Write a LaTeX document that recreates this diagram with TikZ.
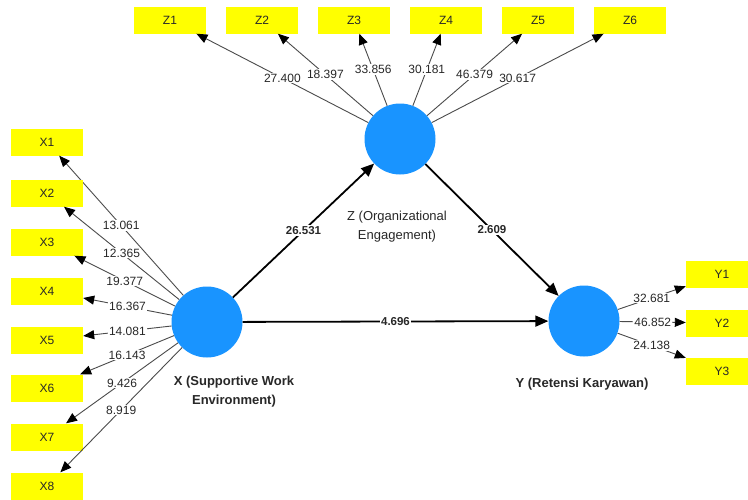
\documentclass[tikz,border=0pt]{standalone}
\usepackage{fontspec}
\setmainfont{Liberation Sans}
\usetikzlibrary{arrows.meta}
\definecolor{boxyellow}{RGB}{255,255,0}
\definecolor{lvblue}{RGB}{25,148,255}
\definecolor{txtgray}{RGB}{40,40,40}
\definecolor{linegray}{RGB}{75,75,75}
\begin{document}
\begin{tikzpicture}[x=1pt,y=-1pt,
  lv/.style={circle,fill=lvblue,minimum size=71pt,inner sep=0pt},
  ind/.style={fill=boxyellow,minimum width=72pt,minimum height=27pt,inner sep=0pt,font=\fontsize{12}{14}\selectfont,text=txtgray},
  load/.style={draw=linegray,line width=0.9pt,-{Triangle[length=11pt,width=9pt,color=black]}},
  coef/.style={fill=white,inner sep=1pt,font=\fontsize{12}{14}\selectfont,text=txtgray},
  struct/.style={draw=black,line width=1.8pt,-{Triangle[length=13pt,width=11pt]}},
  pcoef/.style={fill=white,inner sep=1pt,font=\bfseries\fontsize{11.5}{14}\selectfont,text=txtgray},
  lvlab/.style={inner sep=0pt,align=center,text=txtgray,font=\bfseries\fontsize{13}{19}\selectfont},
  lvlabr/.style={inner sep=0pt,align=center,text=txtgray,font=\fontsize{13}{19}\selectfont}]
\useasboundingbox (0,0) rectangle (748,499);
\fill[white] (0,0) rectangle (748,499);
\node[lv] (X) at (207,322) {};
\node[lv] (Z) at (400,139) {};
\node[lv] (Y) at (584,321) {};
\foreach \i/\yy/\v in {1/142/13.061,2/193/12.365,3/242/19.377,4/291/16.367,5/340/14.081,6/388/16.143,7/437/9.426,8/486/8.919}{
  \node[ind] (X\i) at (47,\yy) {X\i};
  \draw[load] (X) -- node[coef]{\v} (X\i);
}
\foreach \i/\xx/\v in {1/170/27.400,2/262/18.397,3/354/33.856,4/446/30.181,5/538/46.379,6/630/30.617}{
  \node[ind] (Z\i) at (\xx,20) {Z\i};
  \draw[load] (Z) -- node[coef]{\v} (Z\i);
}
\foreach \i/\yy/\v in {1/274/32.681,2/323/46.852,3/371/24.138}{
  \node[ind] (Y\i) at (722,\yy) {Y\i};
  \draw[load] (Y) -- node[coef]{\v} (Y\i);
}
\draw[struct] (X) -- node[pcoef]{26.531} (Z);
\draw[struct] (Z) -- node[pcoef]{2.609} (Y);
\draw[struct] (X) -- node[pcoef]{4.696} (Y);
\node[lvlab,anchor=north] (Xl) at (234,376) {X (Supportive Work\\Environment)};
\node[lvlabr,anchor=north] (Zl) at (397,211) {Z (Organizational\\Engagement)};
\node[lvlab,anchor=base] (Yl) at (582,387) {Y (Retensi Karyawan)};
\end{tikzpicture}
\end{document}
